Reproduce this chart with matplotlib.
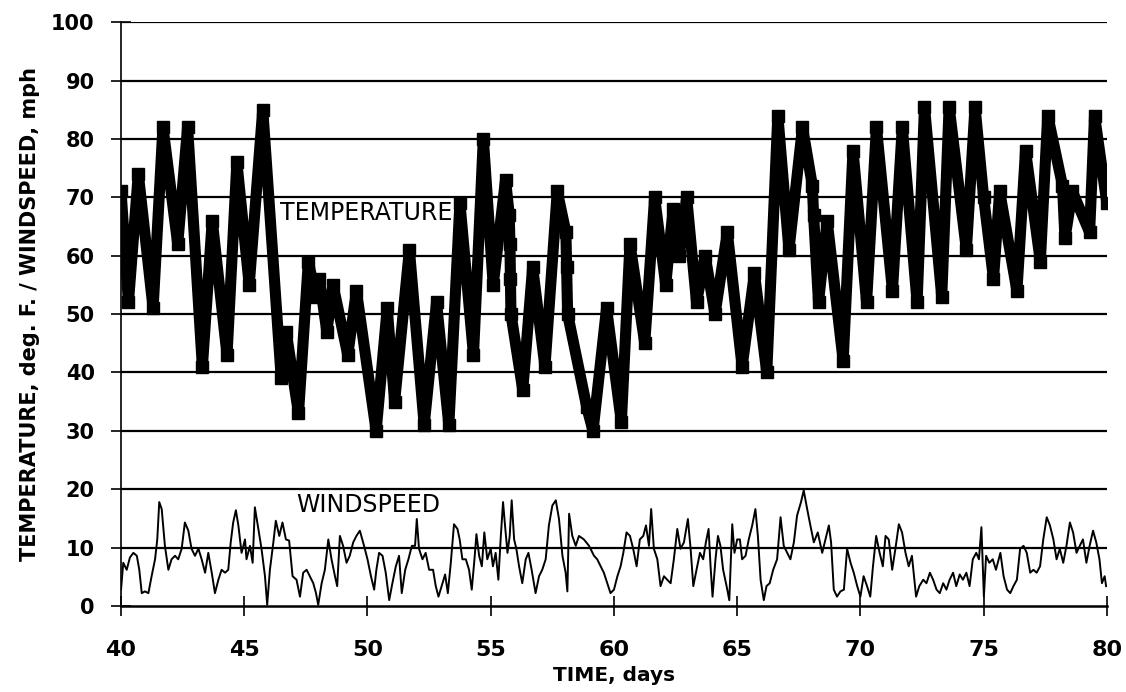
import matplotlib
matplotlib.use('Agg')
import matplotlib.pyplot as plt

plt.rcParams['font.family'] = ['DejaVu Sans']

# daily highs / lows of air temperature, deg F
temp_day = [40.0, 40.3, 40.7, 41.3, 41.7, 42.3, 42.7, 43.3, 43.7, 44.3,
            44.7, 45.2, 45.75, 46.5, 46.7, 47.2, 47.6, 47.9, 48.05, 48.35,
            48.6, 49.2, 49.55, 50.35, 50.8, 51.1, 51.7, 52.3, 52.8, 53.3,
            53.75, 54.3, 54.7, 55.1, 55.6, 55.75, 55.78, 55.8, 55.82, 56.3,
            56.7, 57.2, 57.7, 58.05, 58.08, 58.12, 58.9, 59.15, 59.7, 60.3,
            60.65, 61.25, 61.65, 62.1, 62.4, 62.65, 62.95, 63.35, 63.7, 64.1,
            64.6, 65.2, 65.7, 66.2, 66.65, 67.1, 67.65, 68.05, 68.1, 68.3,
            68.65, 69.3, 69.7, 70.25, 70.65, 71.3, 71.7, 72.3, 72.6, 73.3,
            73.6, 74.3, 74.65, 75.0, 75.4, 75.65, 76.35, 76.7, 77.3, 77.6,
            78.2, 78.3, 78.6, 79.3, 79.5, 80.0]
temp_f = [71, 52, 74, 51, 82, 62, 82, 41, 66, 43,
          76, 55, 85, 39, 47, 33, 59, 53, 56, 47,
          55, 43, 54, 30, 51, 35, 61, 31, 52, 31,
          69, 43, 80, 55, 73, 67, 62, 56, 50, 37,
          58, 41, 71, 64, 58, 50, 34, 30, 51, 31.5,
          62, 45, 70, 55, 68, 60, 70, 52, 60, 50,
          64, 41, 57, 40, 84, 61, 82, 72, 67, 52,
          66, 42, 78, 52, 82, 54, 82, 52, 85.5, 53,
          85.5, 61, 85.5, 70, 56, 71, 54, 78, 59, 84,
          72, 63, 71, 64, 84, 69]

# wind speed, mph
wind_day = [40.00, 40.09, 40.23, 40.36, 40.50, 40.64, 40.74, 40.84, 40.97, 41.11,
            41.24, 41.38, 41.47, 41.55, 41.65, 41.78, 41.92, 42.05, 42.19, 42.32,
            42.46, 42.59, 42.73, 42.86, 43.00, 43.14, 43.27, 43.41, 43.54, 43.68,
            43.81, 43.95, 44.08, 44.22, 44.35, 44.45, 44.55, 44.66, 44.76, 44.89,
            45.03, 45.09, 45.23, 45.34, 45.43, 45.57, 45.70, 45.84, 45.93, 46.04,
            46.18, 46.28, 46.42, 46.55, 46.69, 46.82, 46.96, 47.12, 47.26, 47.39,
            47.53, 47.66, 47.80, 47.91, 48.00, 48.14, 48.27, 48.41, 48.54, 48.68,
            48.77, 48.88, 49.01, 49.15, 49.28, 49.42, 49.55, 49.69,
            49.86, 50.00, 50.14, 50.27, 50.36, 50.47, 50.61, 50.74, 50.88, 51.01,
            51.15, 51.28, 51.39, 51.53, 51.66, 51.80, 51.93, 52.00, 52.09, 52.23,
            52.36, 52.50, 52.66, 52.77, 52.88, 53.01, 53.15, 53.26, 53.38, 53.51,
            53.65, 53.74, 53.85, 53.99, 54.12, 54.23, 54.34, 54.42, 54.53, 54.64,
            54.74, 54.86, 55.00, 55.09, 55.20, 55.31, 55.41, 55.50, 55.58, 55.68,
            55.77, 55.85, 55.95, 56.04, 56.15, 56.28, 56.42, 56.53, 56.66, 56.82,
            56.96, 57.09, 57.23, 57.36, 57.50, 57.64, 57.77, 57.91, 58.04, 58.11,
            58.18, 58.31, 58.45, 58.58, 58.78, 58.99,
            59.19, 59.32, 59.46, 59.59, 59.73, 59.86, 60.00, 60.14, 60.27, 60.38,
            60.51, 60.65, 60.78, 60.92, 61.05, 61.19, 61.30, 61.42, 61.51, 61.62,
            61.76, 61.89, 62.03, 62.16, 62.30, 62.43, 62.57, 62.70, 62.84, 63.00,
            63.11, 63.22, 63.35, 63.49, 63.62, 63.73, 63.84, 63.92, 64.00, 64.12,
            64.22, 64.32, 64.43, 64.57, 64.68, 64.80, 64.89, 65.00, 65.11, 65.20,
            65.34, 65.47, 65.61, 65.74, 65.84, 65.95, 66.08, 66.19, 66.32, 66.46,
            66.62, 66.76, 66.89, 67.03, 67.16, 67.30, 67.43, 67.59, 67.70, 67.84,
            67.97, 68.11, 68.27, 68.45, 68.58, 68.72, 68.81, 68.92, 69.05, 69.19,
            69.33, 69.46, 69.60, 69.73, 69.87, 70.00, 70.13, 70.27, 70.40, 70.51,
            70.64, 70.78, 70.91, 71.02, 71.15, 71.29, 71.42, 71.56, 71.69, 71.83,
            71.96, 72.09, 72.26, 72.39, 72.55, 72.68, 72.82, 72.95, 73.09, 73.22,
            73.36, 73.49, 73.62, 73.76, 73.89, 74.03, 74.16, 74.30, 74.43, 74.56,
            74.70, 74.81, 74.91, 75.01, 75.10, 75.23, 75.37, 75.50, 75.68, 75.81,
            75.95, 76.08, 76.21, 76.35, 76.48, 76.62, 76.75, 76.89, 77.02, 77.15,
            77.29, 77.42, 77.56, 77.69, 77.83, 77.96, 78.09, 78.23, 78.36, 78.50,
            78.63, 78.77, 78.90, 79.03, 79.17, 79.30, 79.44, 79.57, 79.70, 79.80,
            79.91, 79.97]
wind_mph = [2.8, 7.4, 6.2, 8.3, 9.1, 8.6, 6.2, 2.2, 2.5, 2.2,
            5.1, 8.0, 11.4, 17.8, 16.6, 10.3, 6.2, 8.0, 8.6, 8.0,
            9.8, 14.3, 12.9, 9.8, 8.6, 9.8, 8.0, 5.7, 9.1, 5.7,
            2.2, 4.5, 6.2, 5.7, 6.2, 10.9, 14.3, 16.4, 13.8, 9.1,
            11.4, 8.0, 10.3, 7.4, 16.9, 13.2, 9.8, 5.1, 0.2, 6.2,
            10.9, 14.6, 12.0, 14.3, 11.4, 11.2, 5.1, 4.5, 1.6, 5.7,
            6.2, 5.1, 3.9, 2.2, 0.2, 3.9, 6.2, 11.4, 8.0, 5.1,
            3.4, 12.0, 10.3, 7.4, 8.6, 10.9, 12.0, 12.9,
            10.3, 8.0, 5.1, 2.8, 6.2, 9.1, 8.6, 5.7, 1.0, 3.9,
            6.8, 8.6, 2.2, 6.2, 8.0, 10.3, 10.3, 14.9, 9.8, 8.0,
            9.1, 6.2, 6.2, 3.4, 1.6, 3.4, 5.4, 2.2, 7.4, 14.0,
            13.2, 11.4, 8.0, 8.0, 6.2, 2.8, 8.0, 12.3, 8.6, 6.8,
            12.6, 8.0, 9.8, 6.8, 9.1, 4.5, 12.0, 17.8, 13.8, 9.1,
            12.0, 18.1, 11.4, 9.8, 6.8, 3.9, 8.0, 9.1, 6.2, 2.2,
            5.1, 6.2, 8.0, 13.8, 17.2, 18.1, 14.9, 8.6, 5.7, 2.5,
            15.8, 12.0, 10.3, 12.0, 11.4, 10.3,
            8.6, 8.0, 6.8, 5.7, 3.9, 2.2, 2.8, 5.1, 6.8, 9.1,
            12.6, 12.0, 9.8, 6.8, 11.4, 12.0, 13.8, 10.3, 16.6, 9.8,
            8.0, 3.4, 5.1, 4.5, 3.9, 8.0, 13.2, 9.8, 10.9, 14.9,
            9.8, 3.4, 6.2, 9.1, 8.0, 10.9, 13.2, 6.8, 1.6, 8.0,
            12.0, 10.3, 6.2, 3.4, 1.0, 14.0, 9.1, 11.4, 11.4, 8.0,
            8.6, 11.4, 13.8, 16.6, 12.0, 4.5, 1.0, 3.4, 3.9, 6.2,
            8.0, 15.2, 10.3, 9.1, 8.0, 10.9, 15.5, 17.8, 19.8, 16.6,
            13.8, 10.9, 12.6, 9.1, 11.4, 13.8, 10.9, 2.8, 1.6, 2.5,
            2.8, 9.8, 7.4, 5.7, 3.4, 1.6, 5.1, 3.4, 1.6, 6.8,
            12.0, 9.1, 6.8, 12.0, 11.4, 6.2, 9.8, 14.0, 12.6, 9.1,
            6.8, 8.6, 1.6, 3.4, 4.5, 3.9, 5.7, 4.5, 2.8, 2.2,
            3.9, 2.8, 4.5, 5.7, 3.4, 5.4, 4.5, 5.7, 3.4, 8.0,
            9.1, 8.0, 13.5, 1.6, 8.6, 7.4, 8.0, 6.2, 9.1, 5.1,
            2.8, 2.2, 3.4, 4.5, 9.8, 10.3, 9.1, 5.7, 6.2, 5.7,
            6.8, 11.4, 15.2, 13.8, 11.4, 8.0, 9.8, 7.4, 10.3, 14.3,
            12.6, 9.1, 10.3, 11.4, 7.4, 10.3, 12.9, 10.9, 8.0, 3.9,
            5.1, 3.4]

x_ticks = list(range(40, 81, 5))
y_ticks = list(range(0, 101, 10))

if len(wind_day) != len(wind_mph) or len(temp_day) != len(temp_f):
    print('Error! the number of days and values do not match.')

fig = plt.figure(figsize=(11.26, 6.92), dpi=100)
ax = fig.add_axes([0.1075, 0.1243, 0.8755, 0.8437])

# horizontal grid
for v in y_ticks[1:]:
    ax.axhline(v, color='black', lw=1.6, zorder=1)

ax.plot(temp_day, temp_f, color='black', lw=8, marker='s', ms=9,
        solid_joinstyle='round', zorder=3)
ax.plot(wind_day, wind_mph, color='black', lw=1.4, zorder=3)

ax.text(46.45, 67.3, 'TEMPERATURE', fontsize=17, ha='left', va='center',
        zorder=2, bbox=dict(facecolor='white', edgecolor='none', pad=1))
ax.text(47.1, 17.3, 'WINDSPEED', fontsize=17, ha='left', va='center',
        zorder=2, bbox=dict(facecolor='white', edgecolor='none', pad=1))

ax.set_xlim(40, 80)
ax.set_ylim(0, 100)
ax.set_xticks(x_ticks)
ax.set_yticks(y_ticks)
for s in ['top', 'right']:
    ax.spines[s].set_visible(False)
ax.spines['left'].set_linewidth(1.2)
ax.spines['bottom'].set_linewidth(1.8)
ax.tick_params(axis='y', direction='inout', length=14, width=1.2, pad=12,
               labelsize=15)
ax.tick_params(axis='x', direction='inout', length=15, width=1.2, pad=17,
               labelsize=16)
for lab in ax.get_xticklabels() + ax.get_yticklabels():
    lab.set_fontweight('bold')
ax.set_xlabel('TIME, days', fontsize=14.5, fontweight='bold', labelpad=4)
ax.set_ylabel('TEMPERATURE, deg. F. / WINDSPEED, mph', fontsize=15,
              fontweight='bold', labelpad=8)

fig.savefig('out.png', dpi=100)
